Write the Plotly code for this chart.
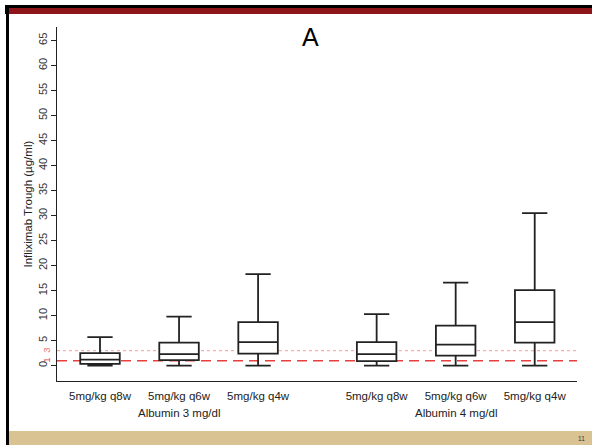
import plotly.graph_objects as go

# ---- data ----
categories = ["5mg/kg q8w", "5mg/kg q6w", "5mg/kg q4w",
              "5mg/kg q8w", "5mg/kg q6w", "5mg/kg q4w"]
positions = [1, 2, 3, 4.5, 5.5, 6.5]
groups = ["Albumin 3 mg/dl", "Albumin 4 mg/dl"]
group_pos = [2, 5.5]
lower = [0, 0, 0, 0, 0, 0]
q1 = [0.35, 1.1, 2.4, 0.9, 2.0, 4.6]
median = [1.2, 2.3, 4.7, 2.3, 4.2, 8.7]
q3 = [2.5, 4.6, 8.7, 4.7, 8.0, 15.1]
upper = [5.7, 9.8, 18.3, 10.3, 16.6, 30.5]
yticks = list(range(0, 70, 5))
ref_lines = [1, 3]

W, H = 592, 445
L, R, T, B = 57, 577, 27, 381  # plot area in pixels


def px(x):
    return (x - L) / (R - L)


def py(y):
    return (B - y) / (B - T)


fig = go.Figure()
fig.add_trace(go.Box(
    x=positions, q1=q1, median=median, q3=q3,
    lowerfence=lower, upperfence=upper,
    width=0.5, whiskerwidth=0.64, boxpoints=False,
    line=dict(color="#222222", width=1.8),
    fillcolor="white", showlegend=False,
))

shapes = []
# reference lines
shapes.append(dict(type="line", xref="paper", yref="y", x0=0, x1=1,
                   y0=ref_lines[1], y1=ref_lines[1],
                   line=dict(color="#f29a9a", width=1, dash="dot"), layer="below"))
shapes.append(dict(type="line", xref="paper", yref="y", x0=0, x1=1,
                   y0=ref_lines[0], y1=ref_lines[0],
                   line=dict(color="#e8413c", width=1.4, dash="10px,6px"), layer="below"))
# slide frame
shapes.append(dict(type="rect", xref="paper", yref="paper",
                   x0=px(5), x1=px(W), y0=py(5), y1=py(14),
                   fillcolor="#000000", line=dict(width=0)))
shapes.append(dict(type="rect", xref="paper", yref="paper",
                   x0=px(8), x1=px(W), y0=py(8), y1=py(14),
                   fillcolor="#8e1519", line=dict(width=0)))
shapes.append(dict(type="rect", xref="paper", yref="paper",
                   x0=px(6), x1=px(9), y0=py(5), y1=py(H),
                   fillcolor="#000000", line=dict(width=0)))
shapes.append(dict(type="rect", xref="paper", yref="paper",
                   x0=px(9), x1=px(W), y0=py(431), y1=py(H),
                   fillcolor="#d9c393", line=dict(width=0)))

annotations = []
for g, gp in zip(groups, group_pos):
    annotations.append(dict(text=g, x=gp, xref="x", y=py(413), yref="paper",
                            showarrow=False, xanchor="center", yanchor="middle",
                            font=dict(size=11.5, color="#222222")))
annotations.append(dict(text="A", x=px(310), xref="paper", y=py(36.5), yref="paper",
                        showarrow=False, xanchor="center", yanchor="middle",
                        font=dict(size=25, color="#000000")))
annotations.append(dict(text="Infliximab Trough (µg/ml)", x=px(27.5), xref="paper",
                        y=0.5, yref="paper", textangle=-90, showarrow=False,
                        xanchor="center", yanchor="middle",
                        font=dict(size=11.5, color="#222222")))
annotations.append(dict(text="3", x=px(47), xref="paper", y=ref_lines[1], yref="y",
                        textangle=-90, showarrow=False, xanchor="center", yanchor="middle",
                        font=dict(size=9.5, color="#f07070")))
annotations.append(dict(text="1", x=px(47), xref="paper", y=ref_lines[0], yref="y",
                        textangle=-90, showarrow=False, xanchor="center", yanchor="middle",
                        font=dict(size=9.5, color="#e8413c")))
annotations.append(dict(text="11", x=px(581), xref="paper", y=py(438), yref="paper",
                        showarrow=False, xanchor="center", yanchor="middle",
                        font=dict(size=6.5, color="#333333")))

fig.update_layout(
    width=W, height=H,
    margin=dict(l=L, r=W - R, t=T, b=H - B, pad=0),
    paper_bgcolor="white", plot_bgcolor="white",
    font=dict(family="Liberation Sans, Arial, sans-serif", color="#222222"),
    shapes=shapes, annotations=annotations,
    xaxis=dict(range=[0.456, 7.035], tickvals=positions, ticktext=categories,
               showline=True, linecolor="#222222", linewidth=1.2,
               ticks="", showgrid=False, zeroline=False,
               tickfont=dict(size=11.5, color="#222222"), ticklabelstandoff=4),
    yaxis=dict(range=[-3.06, 67.7], tickvals=yticks,
               showline=True, linecolor="#222222", linewidth=1.2,
               ticks="outside", ticklen=5, tickcolor="#222222", tickwidth=1,
               tickangle=-90, showgrid=False, zeroline=False,
               tickfont=dict(size=11, color="#333333")),
)

fig.write_html("out.html", config={"displayModeBar": False})

# remove the browser's default page margin so the figure sits at (0, 0)
with open("out.html", encoding="utf-8") as f:
    html = f.read()
html = html.replace("<body>", '<body style="margin:0;padding:0;overflow:hidden">', 1)
with open("out.html", "w", encoding="utf-8") as f:
    f.write(html)
